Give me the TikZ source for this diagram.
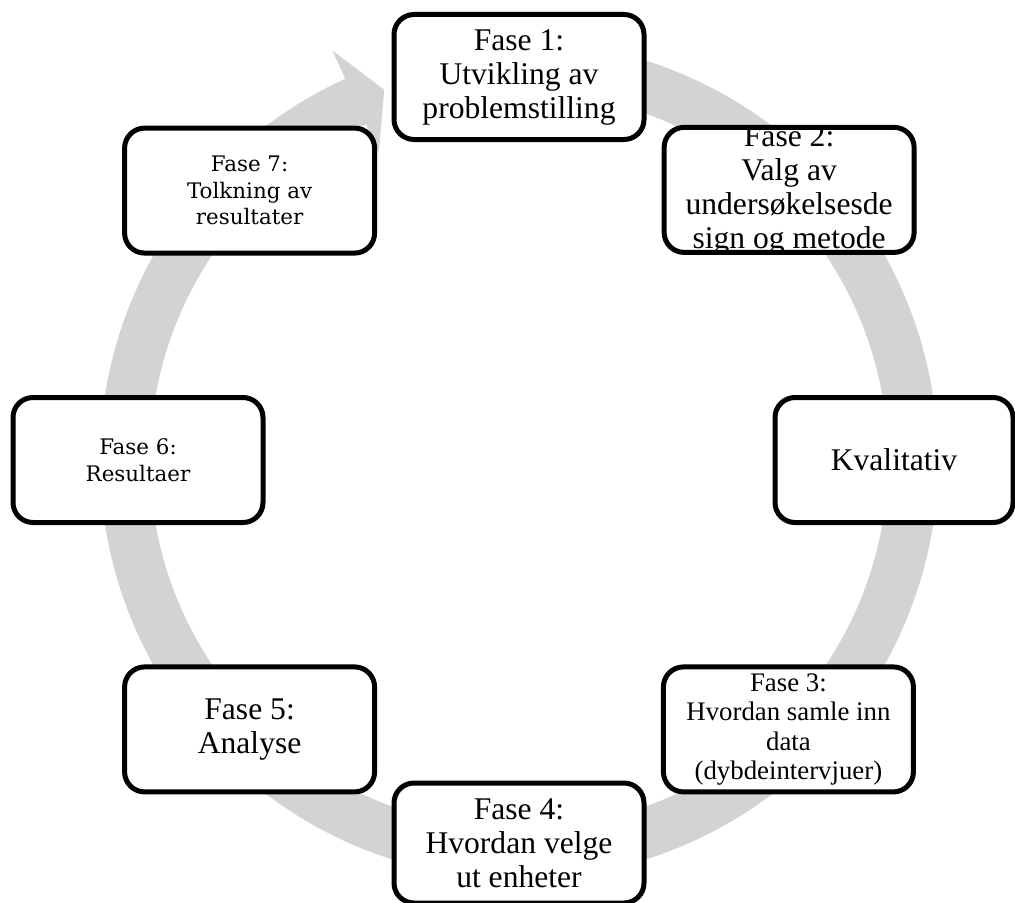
\documentclass[tikz,border=0pt]{standalone}
\usepackage{fontspec}
\setmainfont{Liberation Serif}
\newfontfamily\fasefont{DejaVu Serif}
\usetikzlibrary{calc}

\definecolor{ringgray}{RGB}{211,211,211}

\begin{document}
\begin{tikzpicture}[
      x=0.5pt, y=0.5pt,
      box/.style={draw, line width=2.5pt, rounded corners=10pt, fill=white, align=center,
        minimum width=125pt, minimum height=62.5pt, inner sep=0pt},
      big/.style={font=\fontsize{15.8}{17}\selectfont},
      mid/.style={font=\fontsize{13.4}{14.6}\selectfont},
      small/.style={font=\fasefont\fontsize{10.7}{13.3}\selectfont}
    ]
    \useasboundingbox (0,0) rectangle (1015,902);
    \coordinate (c) at (519,442);

    % grey ring with arrow head
    \fill[ringgray] ($(c)+(102:419)$) arc[start angle=102, end angle=-245.5, radius=419]
      -- ($(c)+(114.5:450)$) -- ($(c)+(110:394)$) -- ($(c)+(114.5:338)$)
      -- ($(c)+(114.5:369)$) arc[start angle=-245.5, end angle=102, radius=369] -- cycle;

    \node[box, big] (f1) at ($(c)+(90:383)$) {Fase 1:\\Utvikling av\\problemstilling};
    \node[box, big] (f2) at ($(c)+(45:382)$) {\smash{\raisebox{-4pt}{\begin{tabular}{@{}c@{}}Fase 2:\\Valg av\\undersøkelsesde\\sign og metode\end{tabular}}}};
    \node[box, big, minimum width=119pt] (kval) at ($(c)+(0:375)$) {Kvalitativ};
    \node[box, mid] (f3) at ($(c)+(-45:381)$) {Fase 3:\\Hvordan samle inn\\data\\(dybdeintervjuer)};
    \node[box, big, minimum height=60pt] (f4) at ($(c)+(-90:383)$) {Fase 4:\\Hvordan velge\\ut enheter};
    \node[box, big] (f5) at ($(c)+(-135:381)$) {Fase 5:\\Analyse};
    \node[box, small] (f6) at ($(c)+(180:381)$) {Fase 6:\\Resultaer};
    \node[box, small] (f7) at ($(c)+(135:381)$) {Fase 7:\\Tolkning av\\resultater};
  \end{tikzpicture}
\end{document}
